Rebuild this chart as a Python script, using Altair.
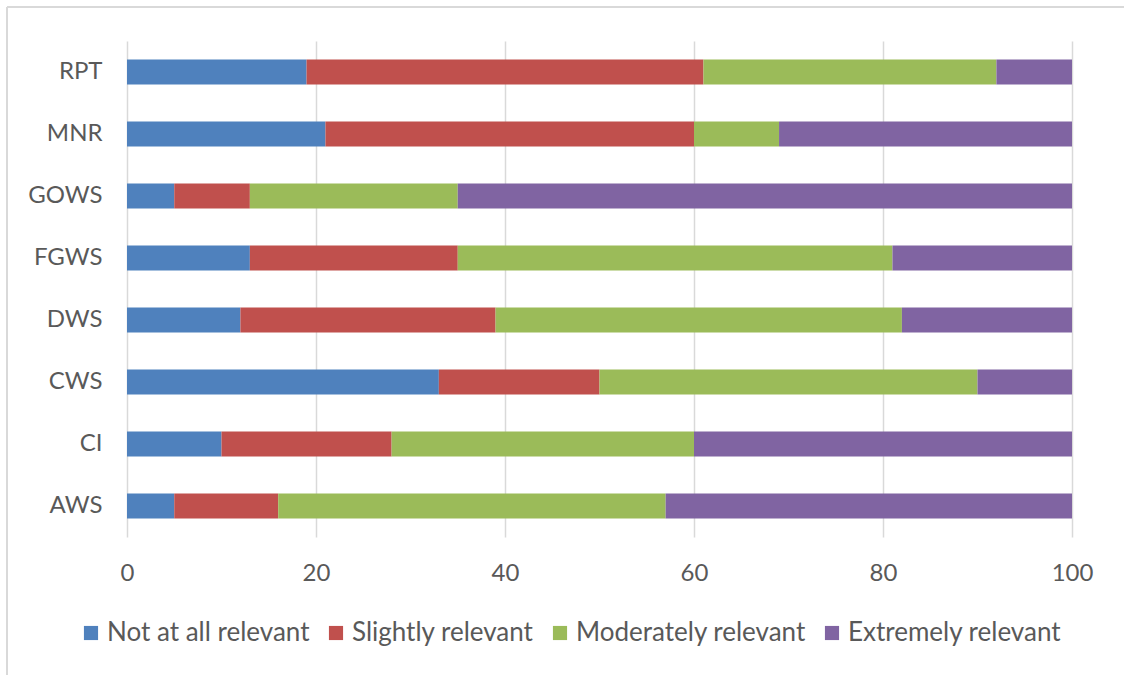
import altair as alt
import pandas as pd

categories = ["RPT", "MNR", "GOWS", "FGWS", "DWS", "CWS", "CI", "AWS"]
levels = ["Not at all relevant", "Slightly relevant", "Moderately relevant", "Extremely relevant"]
not_at_all = [19, 21, 5, 13, 12, 33, 10, 5]
slightly = [42, 39, 8, 22, 27, 17, 18, 11]
moderately = [31, 9, 22, 46, 43, 40, 32, 41]
extremely = [8, 31, 65, 19, 18, 10, 40, 43]
colors = ["#4F81BD", "#C0504D", "#9BBB59", "#8064A2"]
x_ticks = [0, 20, 40, 60, 80, 100]

series = [not_at_all, slightly, moderately, extremely]
rows = []
for li, (lvl, vals) in enumerate(zip(levels, series)):
    for cat, v in zip(categories, vals):
        rows.append({"category": cat, "level": lvl, "value": v, "order": li})
df = pd.DataFrame(rows)

FONT = "Lato"
GRAY = "#595959"

bars = alt.Chart(df).mark_bar().encode(
    y=alt.Y("category:N", sort=categories, title=None,
            scale=alt.Scale(paddingInner=0.6, paddingOuter=0.3),
            axis=alt.Axis(domain=False, ticks=False, labelPadding=25,
                          labelFont=FONT, labelFontSize=24, labelColor=GRAY)),
    x=alt.X("value:Q", stack="zero", title=None,
            scale=alt.Scale(domain=[0, 100], nice=False),
            axis=alt.Axis(values=x_ticks, domain=False, ticks=False, grid=True,
                          gridColor="#d9d9d9", gridWidth=1.5, labelPadding=24,
                          labelFlush=False, labelOverlap=False,
                          labelFont=FONT, labelFontSize=24, labelColor=GRAY)),
    color=alt.Color("level:N", sort=levels,
                    scale=alt.Scale(domain=levels, range=colors),
                    legend=alt.Legend(title=None, orient="none", direction="horizontal",
                                      columns=4, legendX=-49, legendY=579,
                                      symbolType="square", symbolSize=200,
                                      symbolStrokeWidth=0, symbolOpacity=1,
                                      labelFont=FONT, labelFontSize=26, labelColor=GRAY,
                                      labelOffset=3, columnPadding=13, labelLimit=400)),
    order=alt.Order("order:Q"),
)

frame_df = pd.DataFrame({"k": [0]})
left_line = alt.Chart(frame_df).mark_rule(color="#d9d9d9", strokeWidth=2).encode(
    x=alt.value(-120), y=alt.value(-34), y2=alt.value(640))
top_line = alt.Chart(frame_df).mark_rule(color="#d9d9d9", strokeWidth=2).encode(
    x=alt.value(-120), x2=alt.value(1000), y=alt.value(-34))

chart = alt.layer(left_line, top_line, bars).properties(
    width=945, height=496,
    autosize=alt.AutoSizeParams(type="none"),
    padding={"left": 127, "top": 41, "right": 52, "bottom": 138},
    background="white",
).configure_view(stroke=None)

chart.save("out.html", embed_options={"renderer": "svg", "actions": False})
